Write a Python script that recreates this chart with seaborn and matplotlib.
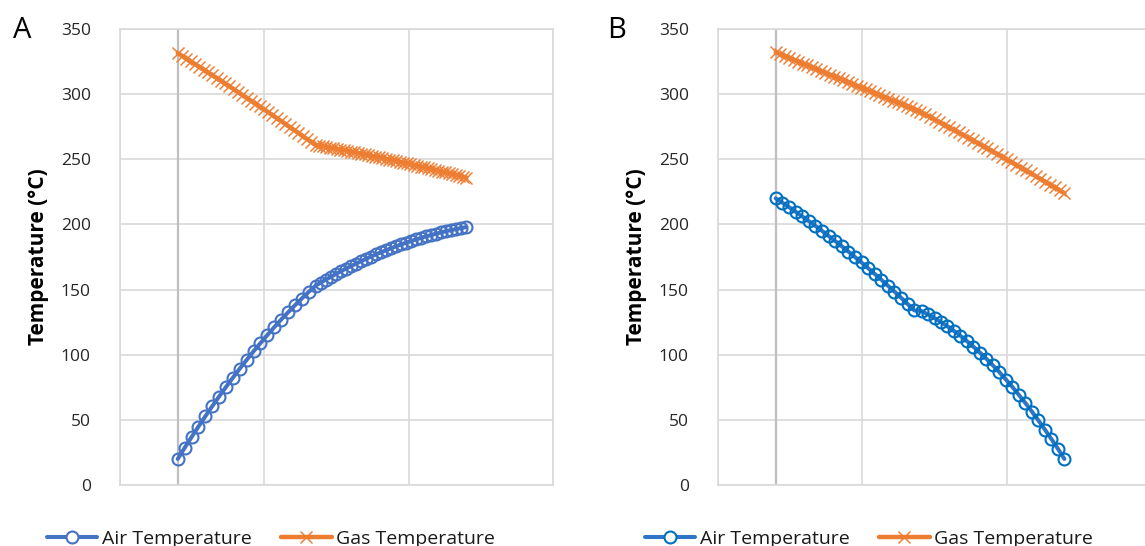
import numpy as np
import pandas as pd
import matplotlib
matplotlib.use("Agg")
import matplotlib.pyplot as plt
import seaborn as sns
from matplotlib.lines import Line2D

# ---------------- data (Temperature, °C) ----------------
series_names = ["Air Temperature", "Gas Temperature"]
panel_labels = ["A", "B"]
y_ticks = [0, 50, 100, 150, 200, 250, 300, 350]

# Panel A – air (two segments, joined at the kink)
a_air_seg1 = [20.0, 28.5, 36.7, 44.8, 52.7, 60.4, 67.9, 75.2, 82.3, 89.3, 96.0,
              102.6, 108.9, 115.1, 121.1, 126.9, 132.5, 137.9, 143.1, 148.2, 153.0]
a_air_seg2 = [155.3, 157.5, 159.7, 161.9, 164.0, 166.0, 167.9, 169.8, 171.7, 173.5,
              175.3, 177.0, 178.6, 180.2, 181.7, 183.2, 184.6, 186.0, 187.3, 188.5,
              189.7, 190.9, 191.9, 193.0, 193.9, 194.9, 195.7, 196.5, 197.3, 198.0]
# Panel A – gas
a_gas_seg1 = [331.5, 329.4, 327.3, 325.2, 323.1, 321.0, 318.9, 316.8, 314.6, 312.5,
              310.3, 308.2, 306.0, 303.8, 301.6, 299.4, 297.3, 295.0, 292.8, 290.6,
              288.4, 286.1, 283.9, 281.6, 279.4, 277.1, 274.8, 272.5, 270.3, 267.9,
              265.6, 263.3, 261.0]
a_gas_seg2 = [260.5, 260.0, 259.5, 259.0, 258.5, 258.0, 257.5, 257.0, 256.4, 255.9,
              255.4, 254.8, 254.3, 253.7, 253.2, 252.6, 252.1, 251.5, 250.9, 250.4,
              249.8, 249.2, 248.6, 248.0, 247.4, 246.8, 246.2, 245.6, 245.0, 244.4,
              243.8, 243.2, 242.5, 241.9, 241.3, 240.6, 240.0, 239.3, 238.7, 238.0,
              237.3, 236.7, 236.0]

# Panel B – air
b_air_seg1 = [220.0, 216.7, 213.3, 209.8, 206.2, 202.6, 198.9, 195.1, 191.2, 187.3,
              183.3, 179.2, 175.0, 170.8, 166.4, 162.0, 157.6, 153.0, 148.4, 143.7,
              138.9, 134.0]
b_air_seg2 = [133.5, 130.9, 128.1, 125.1, 121.8, 118.2, 114.4, 110.4, 106.1, 101.6,
              96.8, 91.8, 86.5, 80.9, 75.2, 69.1, 62.9, 56.3, 49.6, 42.5,
              35.3, 27.8, 20.0]
# Panel B – gas
b_gas_seg1 = [332.0, 330.6, 329.2, 327.7, 326.3, 324.9, 323.5, 322.0, 320.6, 319.2,
              317.8, 316.4, 314.9, 313.5, 312.1, 310.7, 309.3, 307.8, 306.4, 305.0,
              303.6, 302.1, 300.7, 299.3, 297.9, 296.5, 295.0, 293.6, 292.2, 290.8,
              289.3, 287.9, 286.5]
b_gas_seg2 = [284.5, 282.6, 280.6, 278.6, 276.6, 274.6, 272.6, 270.6, 268.6, 266.6,
              264.5, 262.5, 260.4, 258.3, 256.3, 254.2, 252.1, 250.0, 247.8, 245.7,
              243.6, 241.4, 239.3, 237.1, 235.0, 232.8, 230.6, 228.4, 226.2, 224.0]

# positions along the (unlabelled) horizontal axis: start, kink, end
A_KINK = 0.955
B_AIR_KINK_END, B_AIR_KINK_START = 0.96, 1.01
B_GAS_KINK = 1.0
X_END = 2.0


def seg_x(start, stop, n, include_start=True):
    x = np.linspace(start, stop, n if include_start else n + 1)
    return x if include_start else x[1:]


a_air_x = np.concatenate([seg_x(0, A_KINK, len(a_air_seg1)),
                          seg_x(A_KINK, X_END, len(a_air_seg2), False)])
a_gas_x = np.concatenate([seg_x(0, A_KINK, len(a_gas_seg1)),
                          seg_x(A_KINK, X_END, len(a_gas_seg2), False)])
b_air_x = np.concatenate([seg_x(0, B_AIR_KINK_END, len(b_air_seg1)),
                          seg_x(B_AIR_KINK_START, X_END, len(b_air_seg2))])
b_gas_x = np.concatenate([seg_x(0, B_GAS_KINK, len(b_gas_seg1)),
                          seg_x(B_GAS_KINK, X_END, len(b_gas_seg2), False)])

panels = [
    dict(air_x=a_air_x, air_y=a_air_seg1 + a_air_seg2,
         gas_x=a_gas_x, gas_y=a_gas_seg1 + a_gas_seg2,
         air_line="#4472C4", air_edge="#4472C4"),
    dict(air_x=b_air_x, air_y=b_air_seg1 + b_air_seg2,
         gas_x=b_gas_x, gas_y=b_gas_seg1 + b_gas_seg2,
         air_line="#2E75C6", air_edge="#0070C0"),
]
GAS_COLOR = "#ED7D31"

# ---------------- styling ----------------
sns.set_theme(style="white")
plt.rcParams["font.family"] = ["Open Sans", "DejaVu Sans"]

W, H = 1145, 546
fig = plt.figure(figsize=(W / 100, H / 100), dpi=100)

ax_w = 433 / W
ax_h = 456 / H
ax_b = 61 / H
lefts = [120 / W, 718 / W]
letter_x = [22 / W, 617 / W]
legend_cx = [271 / W, 869 / W]

AIR_LW, AIR_MS, AIR_MEW = 2.9, 8.6, 1.5
GAS_LW, GAS_MS, GAS_MEW = 3.2, 8.4, 1.05

for i, p in enumerate(panels):
    ax = fig.add_axes([lefts[i], ax_b, ax_w, ax_h])
    ax.set_axisbelow(True)

    df_air = pd.DataFrame({"x": p["air_x"], "Temperature": p["air_y"]})
    df_gas = pd.DataFrame({"x": p["gas_x"], "Temperature": p["gas_y"]})

    sns.lineplot(data=df_air, x="x", y="Temperature", ax=ax, sort=False,
                 color=p["air_line"], linewidth=AIR_LW, marker="o", markersize=AIR_MS,
                 markerfacecolor="none", markeredgecolor=p["air_edge"],
                 markeredgewidth=AIR_MEW, zorder=3)
    sns.lineplot(data=df_gas, x="x", y="Temperature", ax=ax, sort=False,
                 color=GAS_COLOR, linewidth=GAS_LW, marker="x", markersize=GAS_MS,
                 markeredgecolor=GAS_COLOR, markeredgewidth=GAS_MEW, zorder=3)
    if ax.get_legend() is not None:
        ax.get_legend().remove()

    ax.set_xlim(-0.4, 2.6)
    ax.set_ylim(0, 350)
    ax.set_xticks([-0.4, 0.6, 1.6, 2.6])
    ax.set_xticklabels([])
    ax.set_yticks(y_ticks)
    ax.set_yticklabels([str(t) for t in y_ticks])
    ax.tick_params(axis="both", length=0)
    ax.tick_params(axis="y", pad=21, labelsize=12.5, labelcolor="#262626")
    ax.grid(True, color="#D9D9D9", linewidth=1.2)
    ax.axvline(0, color="#BFBFBF", linewidth=1.6, zorder=1.5)
    for s in ax.spines.values():
        s.set_color("#D9D9D9")
        s.set_linewidth(1.2)

    ax.set_xlabel("")
    ax.set_ylabel("Temperature (°C)", fontsize=15, fontweight="bold", color="#000000")
    ax.yaxis.set_label_coords(-0.163, 0.5)

    fig.text(letter_x[i], 1 - 30 / H, panel_labels[i], fontsize=21,
             ha="center", va="center", color="#000000")

    handles = [
        Line2D([], [], color=p["air_line"], linewidth=AIR_LW, marker="o", markersize=AIR_MS,
               markerfacecolor="white", markeredgecolor=p["air_edge"],
               markeredgewidth=AIR_MEW),
        Line2D([], [], color=GAS_COLOR, linewidth=GAS_LW, marker="x", markersize=GAS_MS,
               markeredgecolor=GAS_COLOR, markeredgewidth=GAS_MEW),
    ]
    fig.legend(handles, series_names, loc="center",
               bbox_to_anchor=(legend_cx[i], 7 / H), ncol=2, frameon=False,
               fontsize=14, handlelength=2.6, handletextpad=0.25, columnspacing=1.5,
               labelcolor="#1a1a1a", borderaxespad=0, borderpad=0)

fig.savefig("out.png", dpi=100)
